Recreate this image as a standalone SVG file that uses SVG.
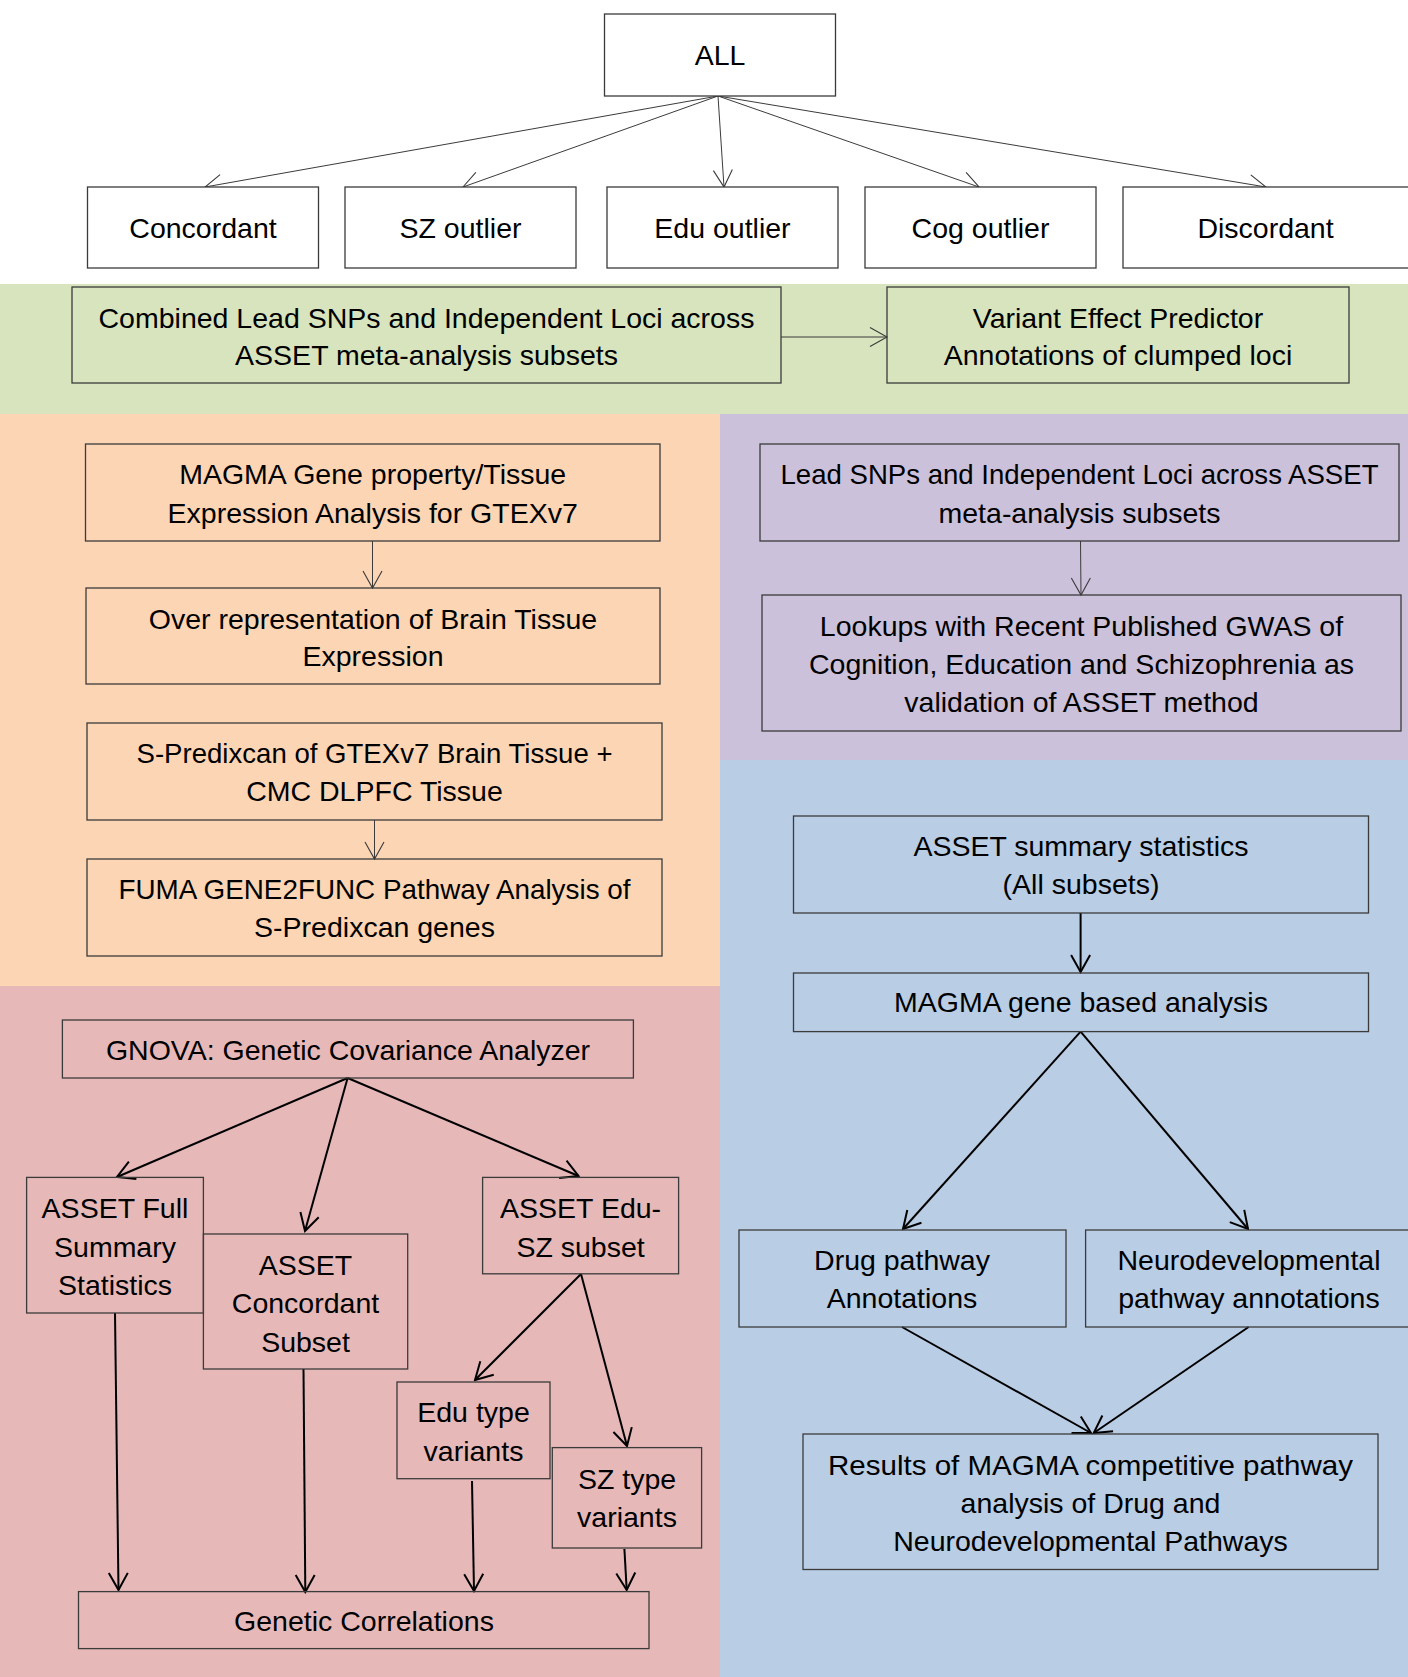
<svg xmlns="http://www.w3.org/2000/svg" width="1408" height="1677" viewBox="0 0 1408 1677">
<style>
  .box { fill: none; stroke: #3b3b3b; stroke-width: 1.3; }
  .wbox { fill: #ffffff; stroke: #3b3b3b; stroke-width: 1.3; }
  text { font-family: "Liberation Sans", Arial, sans-serif; font-size: 28.5px; fill: #000; text-anchor: middle; }
  .thin { stroke: #3b3b3b; stroke-width: 1; fill: none; marker-end: url(#arrThin); }
  .thick { stroke: #000; stroke-width: 2; fill: none; marker-end: url(#arrThick); }
</style>
<defs>
  <marker id="arrThin" markerUnits="userSpaceOnUse" viewBox="-20 -12 22 24" refX="0" refY="0" markerWidth="22" markerHeight="24" orient="auto">
    <polyline points="-17,-9.5 0,0 -17,9.5" fill="none" stroke="#3b3b3b" stroke-width="1.1"/>
  </marker>
  <marker id="arrThick" markerUnits="userSpaceOnUse" viewBox="-20 -12 22 24" refX="0" refY="0" markerWidth="22" markerHeight="24" orient="auto">
    <polyline points="-17,-9.5 0,0 -17,9.5" fill="none" stroke="#000" stroke-width="2"/>
  </marker>
</defs>

<g id="backgrounds">
  <rect x="0" y="0" width="1408" height="284" fill="#ffffff"/>
  <rect x="0" y="284" width="1408" height="130" fill="#D7E4BD"/>
  <rect x="0" y="414" width="720" height="572" fill="#FCD5B5"/>
  <rect x="720" y="414" width="688" height="346" fill="#CCC1DA"/>
  <rect x="0" y="986" width="720" height="691" fill="#E6B9B8"/>
  <rect x="720" y="760" width="688" height="917" fill="#B9CDE5"/>
</g>

<g id="connectors">
  <line class="thin" x1="718" y1="96" x2="205" y2="187"/>
  <line class="thin" x1="718" y1="96" x2="463" y2="187"/>
  <line class="thin" x1="718" y1="96" x2="724" y2="187"/>
  <line class="thin" x1="718" y1="96" x2="979" y2="187"/>
  <line class="thin" x1="718" y1="96" x2="1266" y2="187"/>
  <line class="thin" x1="781" y1="337" x2="887" y2="337"/>
  <line class="thin" x1="372.5" y1="541" x2="372.5" y2="588"/>
  <line class="thin" x1="374.5" y1="820" x2="374.5" y2="859"/>
  <line class="thin" x1="1080.5" y1="541" x2="1081" y2="595"/>
  <line class="thick" x1="1080.6" y1="913" x2="1080.6" y2="972"/>
  <line class="thick" x1="1080.6" y1="1031.6" x2="903" y2="1229"/>
  <line class="thick" x1="1080.6" y1="1031.6" x2="1248" y2="1229"/>
  <line class="thick" x1="902" y1="1327" x2="1091" y2="1433"/>
  <line class="thick" x1="1248.6" y1="1327" x2="1093.7" y2="1433"/>
  <line class="thick" x1="347.6" y1="1078" x2="117" y2="1177"/>
  <line class="thick" x1="347.6" y1="1078" x2="305" y2="1231"/>
  <line class="thick" x1="347.6" y1="1078" x2="578.5" y2="1176"/>
  <line class="thick" x1="581" y1="1274" x2="475" y2="1380"/>
  <line class="thick" x1="581" y1="1274" x2="627" y2="1446"/>
  <line class="thick" x1="115" y1="1313" x2="118.5" y2="1590"/>
  <line class="thick" x1="303.5" y1="1369" x2="305.3" y2="1592"/>
  <line class="thick" x1="472" y1="1481" x2="474" y2="1591"/>
  <line class="thick" x1="624.4" y1="1549" x2="626.7" y2="1590"/>
</g>

<g id="n-all"><rect class="wbox" x="604.5" y="14" width="231" height="82"/><text x="720" y="65">ALL</text></g>
<g id="n-concordant"><rect class="wbox" x="87.5" y="187" width="231" height="81"/><text x="203" y="238">Concordant</text></g>
<g id="n-sz-outlier"><rect class="wbox" x="345" y="187" width="231" height="81"/><text x="460.5" y="238">SZ outlier</text></g>
<g id="n-edu-outlier"><rect class="wbox" x="607" y="187" width="231" height="81"/><text x="722.5" y="238">Edu outlier</text></g>
<g id="n-cog-outlier"><rect class="wbox" x="865" y="187" width="231" height="81"/><text x="980.5" y="238">Cog outlier</text></g>
<g id="n-discordant"><rect class="wbox" x="1123" y="187" width="290" height="81"/><text x="1265.5" y="238">Discordant</text></g>

<g id="n-combined"><rect class="box" x="72" y="287" width="709" height="96"/><text x="426.5" y="327.5">Combined Lead SNPs and Independent Loci across</text><text x="426.5" y="365">ASSET meta-analysis subsets</text></g>
<g id="n-vep"><rect class="box" x="887" y="287" width="462" height="96"/><text x="1118" y="327.5">Variant Effect Predictor</text><text x="1118" y="365">Annotations of clumped loci</text></g>

<g id="n-magma-tissue"><rect class="box" x="85.5" y="444" width="574.5" height="97"/><text x="372.7" y="484">MAGMA Gene property/Tissue</text><text x="372.7" y="522.5">Expression Analysis for GTEXv7</text></g>
<g id="n-overrep"><rect class="box" x="86" y="588" width="574" height="96"/><text x="373" y="628.5">Over representation of Brain Tissue</text><text x="373" y="666">Expression</text></g>
<g id="n-spredixcan"><rect class="box" x="87" y="723" width="575" height="97"/><text x="374.5" y="763" textLength="476" lengthAdjust="spacingAndGlyphs">S-Predixcan of GTEXv7 Brain Tissue +</text><text x="374.5" y="800.5">CMC DLPFC Tissue</text></g>
<g id="n-fuma"><rect class="box" x="87" y="859" width="575" height="97"/><text x="374.5" y="899" textLength="512" lengthAdjust="spacingAndGlyphs">FUMA GENE2FUNC Pathway Analysis of</text><text x="374.5" y="937">S-Predixcan genes</text></g>

<g id="n-lead"><rect class="box" x="760" y="444" width="639" height="97"/><text x="1079.5" y="484" textLength="598" lengthAdjust="spacingAndGlyphs">Lead SNPs and Independent Loci across ASSET</text><text x="1079.5" y="522.5">meta-analysis subsets</text></g>
<g id="n-lookups"><rect class="box" x="762" y="595" width="639" height="136"/><text x="1081.5" y="636">Lookups with Recent Published GWAS of</text><text x="1081.5" y="674">Cognition, Education and Schizophrenia as</text><text x="1081.5" y="712">validation of ASSET method</text></g>

<g id="n-asset-summary"><rect class="box" x="793.5" y="816" width="575" height="97"/><text x="1081" y="856">ASSET summary statistics</text><text x="1081" y="894">(All subsets)</text></g>
<g id="n-magma-gene"><rect class="box" x="793.5" y="973" width="575" height="58.6"/><text x="1081" y="1012">MAGMA gene based analysis</text></g>
<g id="n-drug"><rect class="box" x="739" y="1230" width="327" height="97"/><text x="902" y="1270">Drug pathway</text><text x="902" y="1308">Annotations</text></g>
<g id="n-neuro"><rect class="box" x="1085.6" y="1230" width="327" height="97"/><text x="1249" y="1270">Neurodevelopmental</text><text x="1249" y="1308">pathway annotations</text></g>
<g id="n-results"><rect class="box" x="803" y="1434" width="575" height="135.5"/><text x="1090.5" y="1475" textLength="525" lengthAdjust="spacingAndGlyphs">Results of MAGMA competitive pathway</text><text x="1090.5" y="1513">analysis of Drug and</text><text x="1090.5" y="1551">Neurodevelopmental Pathways</text></g>

<g id="n-gnova"><rect class="box" x="62.4" y="1020" width="571" height="58"/><text x="348" y="1060">GNOVA: Genetic Covariance Analyzer</text></g>
<g id="n-asset-full"><rect class="box" x="26.6" y="1177.4" width="176.8" height="135.6"/><text x="115" y="1218">ASSET Full</text><text x="115" y="1256.5">Summary</text><text x="115" y="1295">Statistics</text></g>
<g id="n-asset-concordant"><rect class="box" x="203.4" y="1234" width="204.3" height="135"/><text x="305.5" y="1274.5">ASSET</text><text x="305.5" y="1313">Concordant</text><text x="305.5" y="1351.5">Subset</text></g>
<g id="n-asset-edusz"><rect class="box" x="482.6" y="1177.4" width="196" height="96.4"/><text x="580.6" y="1218">ASSET Edu-</text><text x="580.6" y="1256.5">SZ subset</text></g>
<g id="n-edu-type"><rect class="box" x="397" y="1382" width="153" height="96.7"/><text x="473.5" y="1422">Edu type</text><text x="473.5" y="1460.5">variants</text></g>
<g id="n-sz-type"><rect class="box" x="552.3" y="1447.6" width="149.3" height="100.4"/><text x="627" y="1488.5">SZ type</text><text x="627" y="1527">variants</text></g>
<g id="n-genetic-corr"><rect class="box" x="78.5" y="1591.6" width="570.5" height="57"/><text x="364" y="1630.5">Genetic Correlations</text></g>
</svg>
